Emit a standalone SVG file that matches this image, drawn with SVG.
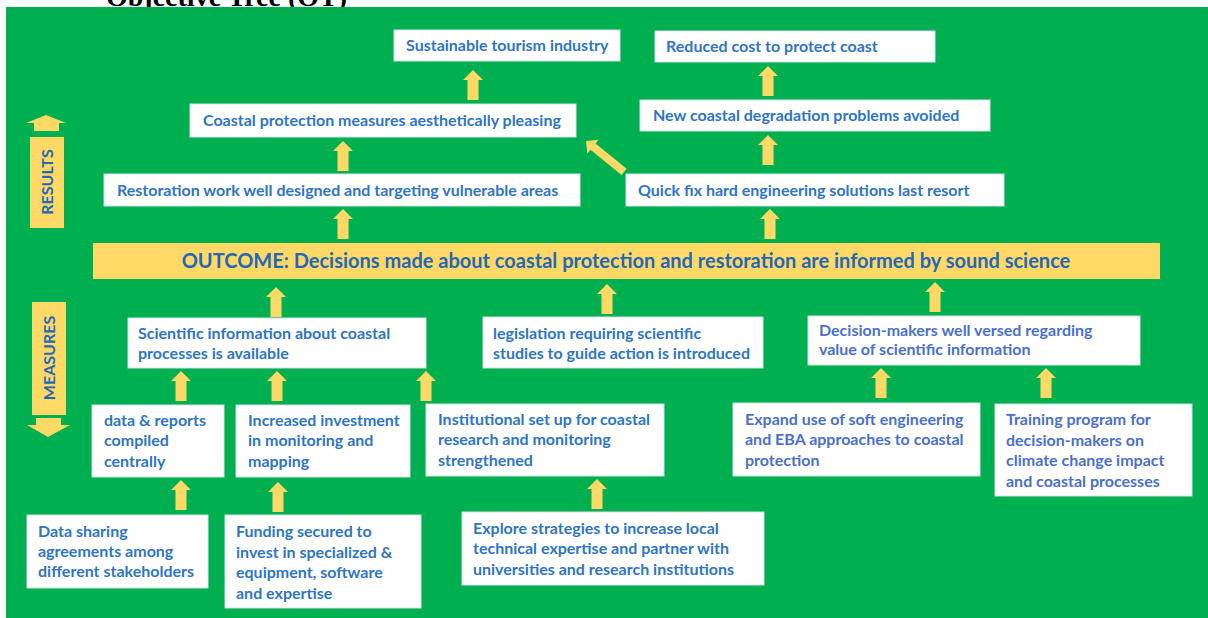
<svg xmlns="http://www.w3.org/2000/svg" xmlns:xlink="http://www.w3.org/1999/xlink" width="1208" height="618" viewBox="0 0 1208 618">
<style>
.bg{fill:#00AF50}
.box{fill:#ffffff;stroke:#d4dee6;stroke-width:1}
.bar{fill:#FFD966}
.t{font-family:Lato,"Liberation Sans",sans-serif;font-weight:bold;font-size:16px;fill:#2E75C4}
.tp{fill:#4A70CC}
.out{font-size:20px;fill:#2467B8}
.side{font-size:16px;fill:#2467B8}
.arr{fill:#FFD966}
.title{font-family:"Liberation Serif",serif;font-weight:bold;font-size:28px;fill:#000}
</style>
<defs>
<path id="up" d="M0 0 L10 10 L5.5 10 L5.5 30 L-5.5 30 L-5.5 10 L-10 10 Z"/>
</defs>
<rect width="1208" height="618" fill="#ffffff"/>
<text class="title" x="106" y="6">Objective Tree (OT)</text>
<rect class="bg" x="6" y="7" width="1202" height="611"/>

<g id="results-label">
<path class="arr" d="M46 115 L66 123 L59 123 L59 131 L34 131 L34 123 L26 123 Z"/>
<rect class="bar" x="30" y="137" width="34" height="91"/>
<text class="t side" transform="translate(53 182) rotate(-90)" text-anchor="middle">RESULTS</text>
</g>
<g id="measures-label">
<rect class="bar" x="32" y="302" width="34" height="113"/>
<text class="t side" transform="translate(55 358) rotate(-90)" text-anchor="middle">MEASURES</text>
<path class="arr" d="M36 418 L61 418 L61 425 L70 425 L48 437 L27 425 L36 425 Z"/>
</g>

<g id="outcome">
<rect class="bar" x="93" y="243" width="1067" height="36"/>
<text class="t out" x="626" y="268" text-anchor="middle">OUTCOME: Decisions made about coastal protection and restoration are informed by sound science</text>
</g>

<g id="sustainable-tourism">
<rect class="box" x="394" y="30" width="226" height="31"/>
<text class="t" x="406" y="51">Sustainable tourism industry</text>
</g>
<g id="reduced-cost">
<rect class="box" x="655" y="31" width="280" height="31"/>
<text class="t" x="666" y="52">Reduced cost to protect coast</text>
</g>
<g id="aesthetically-pleasing">
<rect class="box" x="190" y="104" width="386" height="33"/>
<text class="t" x="203" y="126">Coastal protection measures aesthetically pleasing</text>
</g>
<g id="new-problems-avoided">
<rect class="box" x="640" y="100" width="350" height="31"/>
<text class="t" x="653" y="121">New coastal degradation problems avoided</text>
</g>
<g id="restoration-work">
<rect class="box" x="104" y="174" width="476" height="32"/>
<text class="t" x="117" y="196">Restoration work well designed and targeting vulnerable areas</text>
</g>
<g id="quick-fix">
<rect class="box" x="626" y="174" width="378" height="32"/>
<text class="t" x="638" y="196">Quick fix hard engineering solutions last resort</text>
</g>

<g id="scientific-info">
<rect class="box" x="128" y="318" width="298" height="50"/>
<text class="t" x="138" y="339">Scientific information about coastal</text>
<text class="t" x="138" y="359">processes is available</text>
</g>
<g id="legislation">
<rect class="box" x="483" y="317" width="280" height="51"/>
<text class="t" x="493" y="339">legislation requiring scientific</text>
<text class="t" x="493" y="359">studies to guide action is introduced</text>
</g>
<g id="decision-makers">
<rect class="box" x="808" y="316" width="332" height="49"/>
<text class="t tp" x="819" y="336">Decision-makers well versed regarding</text>
<text class="t tp" x="819" y="355">value of scientific information</text>
</g>

<g id="data-reports">
<rect class="box" x="92" y="405" width="132" height="72"/>
<text class="t" x="104" y="426">data &amp; reports</text>
<text class="t" x="104" y="446">compiled</text>
<text class="t" x="104" y="467">centrally</text>
</g>
<g id="increased-investment">
<rect class="box" x="236" y="405" width="174" height="72"/>
<text class="t" x="248" y="426">Increased investment</text>
<text class="t" x="248" y="446">in monitoring and</text>
<text class="t" x="248" y="467">mapping</text>
</g>
<g id="institutional-setup">
<rect class="box" x="426" y="404" width="238" height="72"/>
<text class="t" x="438" y="425">Institutional set up for coastal</text>
<text class="t" x="438" y="445">research and monitoring</text>
<text class="t" x="438" y="466">strengthened</text>
</g>
<g id="expand-soft-engineering">
<rect class="box" x="733" y="403" width="247" height="73"/>
<text class="t tp" x="745" y="425">Expand use of soft engineering</text>
<text class="t tp" x="745" y="445">and EBA approaches to coastal</text>
<text class="t tp" x="745" y="466">protection</text>
</g>
<g id="training-program">
<rect class="box" x="995" y="404" width="197" height="92"/>
<text class="t tp" x="1006" y="425">Training program for</text>
<text class="t tp" x="1006" y="446">decision-makers on</text>
<text class="t tp" x="1006" y="466">climate change impact</text>
<text class="t tp" x="1006" y="487">and coastal processes</text>
</g>

<g id="data-sharing">
<rect class="box" x="27" y="515" width="181" height="73"/>
<text class="t" x="38" y="537">Data sharing</text>
<text class="t" x="38" y="557">agreements among</text>
<text class="t" x="38" y="577">different stakeholders</text>
</g>
<g id="funding-secured">
<rect class="box" x="225" y="515" width="196" height="93"/>
<text class="t" x="236" y="537">Funding secured to</text>
<text class="t" x="236" y="558">invest in specialized &amp;</text>
<text class="t" x="236" y="578">equipment, software</text>
<text class="t" x="236" y="599">and expertise</text>
</g>
<g id="explore-strategies">
<rect class="box" x="462" y="512" width="302" height="73"/>
<text class="t" x="473" y="534">Explore strategies to increase local</text>
<text class="t" x="473" y="554">technical expertise and partner with</text>
<text class="t" x="473" y="575">universities and research institutions</text>
</g>

<g id="connectors" class="arr">
<use xlink:href="#up" x="473" y="70"/>
<use xlink:href="#up" x="768" y="66"/>
<use xlink:href="#up" x="343" y="141"/>
<use xlink:href="#up" x="768" y="135"/>
<use xlink:href="#up" x="343" y="209"/>
<use xlink:href="#up" x="770" y="209"/>
<path transform="translate(586 141) rotate(-51)" d="M0 0 L9 9 L4 9 L4 49 L-4 49 L-4 9 L-9 9 Z"/>
<use xlink:href="#up" x="276" y="287"/>
<use xlink:href="#up" x="607" y="284"/>
<use xlink:href="#up" x="935" y="282"/>
<use xlink:href="#up" x="181" y="371"/>
<use xlink:href="#up" x="277" y="371"/>
<use xlink:href="#up" x="426" y="371"/>
<use xlink:href="#up" x="881" y="368"/>
<use xlink:href="#up" x="1046" y="368"/>
<use xlink:href="#up" x="181" y="480"/>
<use xlink:href="#up" x="278" y="482"/>
<use xlink:href="#up" x="597" y="479"/>
</g>
</svg>
